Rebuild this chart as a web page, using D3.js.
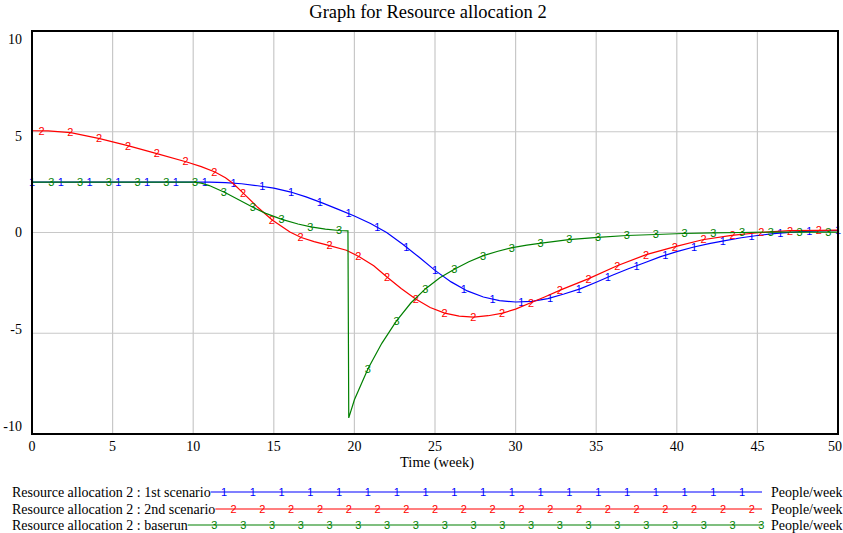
<!DOCTYPE html>
<html>
<head>
<meta charset="utf-8">
<script src="https://cdn.jsdelivr.net/npm/d3@7"></script>
<style>
	body { margin: 0; background: #fff; }
	svg { display: block; }
	text { font-family: "Liberation Serif", "Times New Roman", serif; fill: #000; }
	.mark { font-family: "Liberation Sans", Arial, sans-serif; font-size: 11px; }
</style>
</head>
<body>
<svg id="chart" width="843" height="533"></svg>
<script>

var title = "Graph for Resource allocation 2";
var xLabel = "Time (week)";
var unitLabel = "People/week";

var xTicks = [0, 5, 10, 15, 20, 25, 30, 35, 40, 45, 50];
var yTicks = [10, 5, 0, -5, -10];

var seriesNames = ["Resource allocation 2 : 1st scenario", "Resource allocation 2 : 2nd scenario", "Resource allocation 2 : baserun"];
var seriesMarks = ["1", "2", "3"];
var seriesColors = ["#0000ff", "#ff0000", "#008000"];

// 1st scenario
var time1 = [0, 2, 4, 6, 8, 10, 11, 12, 13, 14, 15, 16, 17, 18, 19, 20, 21, 22, 23, 24, 25, 26, 27, 28, 29, 30, 31, 32, 33, 34, 35, 36, 37, 38, 39, 40, 41, 42, 43, 44, 45, 46, 47, 48, 49, 50];
var value1 = [2.5, 2.5, 2.5, 2.5, 2.5, 2.5, 2.5, 2.48, 2.42, 2.32, 2.2, 2.02, 1.77, 1.47, 1.15, 0.82, 0.45, 0.0, -0.58, -1.22, -1.88, -2.45, -2.9, -3.2, -3.38, -3.45, -3.42, -3.28, -3.05, -2.8, -2.47, -2.12, -1.8, -1.5, -1.2, -0.95, -0.73, -0.55, -0.4, -0.26, -0.15, -0.06, 0.01, 0.06, 0.08, 0.1];

// 2nd scenario
var time2 = [0, 1, 2.4, 4.2, 6, 7.8, 9.6, 10.5, 11.35, 12, 12.5, 13.2, 14, 14.9, 16, 16.7, 17.5, 18.4, 19.5, 20.3, 21.2, 22, 22.9, 23.8, 24.7, 25.6, 26.5, 27.4, 28.3, 29.2, 30, 30.9, 31.8, 32.8, 34.5, 36.3, 38.1, 39.9, 41.6, 43.4, 45.2, 47, 48.8, 50];
var value2 = [5.05, 5.04, 4.96, 4.66, 4.3, 3.9, 3.5, 3.27, 3.0, 2.72, 2.42, 1.88, 1.25, 0.62, 0.02, -0.25, -0.45, -0.64, -0.88, -1.2, -1.65, -2.2, -2.78, -3.3, -3.72, -4.0, -4.15, -4.2, -4.13, -4.0, -3.8, -3.5, -3.2, -2.85, -2.3, -1.65, -1.1, -0.7, -0.36, -0.14, 0.0, 0.09, 0.11, 0.12];

// baserun
var time3 = [0, 2, 4, 6, 8, 10, 10.5, 11, 12, 13, 13.7, 14.5, 15.5, 16.5, 17.3, 18.2, 19.05, 19.6, 19.65, 20, 20.85, 21.7, 22.6, 23.5, 24.4, 25.3, 26.2, 27.1, 28, 28.9, 29.8, 30.7, 31.6, 33.3, 35.1, 36.9, 38.7, 40.4, 42.2, 44, 46, 48, 50];
var value3 = [2.5, 2.5, 2.5, 2.5, 2.5, 2.5, 2.45, 2.33, 1.97, 1.55, 1.25, 0.95, 0.65, 0.42, 0.28, 0.17, 0.1, 0.08, -9.2, -8.3, -6.75, -5.5, -4.4, -3.5, -2.8, -2.25, -1.82, -1.45, -1.15, -0.93, -0.75, -0.63, -0.53, -0.35, -0.24, -0.15, -0.1, -0.05, -0.02, 0.0, 0.02, 0.02, 0.02];

var seriesTimes = [time1, time2, time3];
var seriesValues = [value1, value2, value3];

var svg = d3.select("#chart");
var width = +svg.attr("width");

var plot = {left: 32, right: 838, top: 31, bottom: 434};

var x = d3.scaleLinear().domain([0, 50]).range([plot.left, plot.right]);
var y = d3.scaleLinear().domain([-10, 10]).range([plot.bottom, plot.top]);

// marker spacing along the curves, in weeks
var markStep = 50 / 28;
var markStepPx = x(markStep) - x(0);

// grid
var grid = svg.append("g").attr("class", "grid");

grid.selectAll("line.vgrid")
	.data(xTicks.slice(1, -1))
	.enter().append("line")
	.attr("class", "vgrid")
	.attr("x1", function(d) { return x(d); })
	.attr("x2", function(d) { return x(d); })
	.attr("y1", plot.top)
	.attr("y2", plot.bottom)
	.attr("stroke", "#c8c8c8")
	.attr("stroke-width", 1.2);

grid.selectAll("line.hgrid")
	.data(yTicks.slice(1, -1))
	.enter().append("line")
	.attr("class", "hgrid")
	.attr("x1", plot.left)
	.attr("x2", plot.right)
	.attr("y1", function(d) { return y(d); })
	.attr("y2", function(d) { return y(d); })
	.attr("stroke", "#c8c8c8")
	.attr("stroke-width", 1.2);

// series
var line = d3.line()
	.x(function(d) { return x(d[0]); })
	.y(function(d) { return y(d[1]); });

for (var i = 0; i < seriesNames.length; i++)
{
	var times = seriesTimes[i];
	var values = seriesValues[i];
	var pts = d3.zip(times, values);

	svg.append("path")
		.datum(pts)
		.attr("d", line)
		.attr("fill", "none")
		.attr("stroke", seriesColors[i])
		.attr("stroke-width", 1.2);

	// value along the curve at any time
	var along = d3.scaleLinear().domain(times).range(values);

	var markTimes = [];
	for (var t = markStep * i / 3; t <= 50.001; t += markStep)
		markTimes.push(t);

	svg.selectAll("text.mark" + i)
		.data(markTimes)
		.enter().append("text")
		.attr("class", "mark mark" + i)
		.attr("x", function(d) { return x(d); })
		.attr("y", function(d) { return y(along(d)); })
		.attr("dy", "0.35em")
		.attr("text-anchor", "middle")
		.style("fill", seriesColors[i])
		.text(seriesMarks[i]);
}

// frame
svg.append("rect")
	.attr("x", plot.left)
	.attr("y", plot.top)
	.attr("width", plot.right - plot.left)
	.attr("height", plot.bottom - plot.top)
	.attr("fill", "none")
	.attr("stroke", "#000")
	.attr("stroke-width", 2);

// tick labels
svg.selectAll("text.ytick")
	.data(yTicks)
	.enter().append("text")
	.attr("class", "ytick")
	.attr("x", plot.left - 10)
	.attr("y", function(d) { return y(d) + d * 0.8; })
	.attr("dy", "0.35em")
	.attr("text-anchor", "end")
	.style("font-size", "14px")
	.text(function(d) { return d; });

svg.selectAll("text.xtick")
	.data(xTicks)
	.enter().append("text")
	.attr("class", "xtick")
	.attr("x", function(d) { return x(d); })
	.attr("y", plot.bottom + 17)
	.attr("text-anchor", "middle")
	.style("font-size", "14px")
	.text(function(d) { return d; })
	.each(function()
	{
		// keep the last label inside the page
		var box = this.getBBox();
		if (box.x + box.width > width - 1)
			d3.select(this).attr("x", width - 1 - box.width / 2);
	});

svg.append("text")
	.attr("x", (plot.left + plot.right) / 2 + 2)
	.attr("y", plot.bottom + 33)
	.attr("text-anchor", "middle")
	.style("font-size", "14.5px")
	.text(xLabel);

svg.append("text")
	.attr("x", 428)
	.attr("y", 18)
	.attr("text-anchor", "middle")
	.style("font-size", "18.5px")
	.text(title);

// legend
var legendX = 12;
var legendRows = [492, 509, 525];
var legendEnd = 762;
var legendMarkStart = 224;

for (var i = 0; i < seriesNames.length; i++)
{
	var rowY = legendRows[i];

	var label = svg.append("text")
		.attr("x", legendX)
		.attr("y", rowY)
		.attr("dy", "0.35em")
		.style("font-size", "14px")
		.text(seriesNames[i]);

	var lineStart = legendX + label.node().getComputedTextLength();

	svg.append("line")
		.attr("x1", lineStart)
		.attr("x2", legendEnd)
		.attr("y1", rowY)
		.attr("y2", rowY)
		.attr("stroke", seriesColors[i])
		.attr("stroke-width", 1.2);

	var marks = [];
	var m = legendMarkStart + markStepPx * i / 3;
	while (m - markStepPx >= lineStart)
		m -= markStepPx;
	for (; m <= legendEnd + 0.5; m += markStepPx)
		marks.push(m);

	svg.selectAll("text.lmark" + i)
		.data(marks)
		.enter().append("text")
		.attr("class", "mark lmark" + i)
		.attr("x", function(d) { return d; })
		.attr("y", rowY)
		.attr("dy", "0.35em")
		.attr("text-anchor", "middle")
		.style("fill", seriesColors[i])
		.text(seriesMarks[i]);

	svg.append("text")
		.attr("x", 771)
		.attr("y", rowY)
		.attr("dy", "0.35em")
		.style("font-size", "14px")
		.text(unitLabel);
}

</script>
</body>
</html>
